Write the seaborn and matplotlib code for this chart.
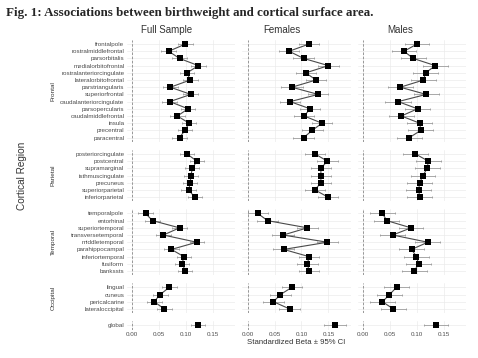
import numpy as np
import pandas as pd
import matplotlib
matplotlib.use('Agg')
import matplotlib.pyplot as plt
import seaborn as sns

# regions per lobe (top to bottom)
frontal = ['frontalpole', 'rostralmiddlefrontal', 'parsorbitalis', 'medialorbitofrontal',
           'rostralanteriorcingulate', 'lateralorbitofrontal', 'parstriangularis',
           'superiorfrontal', 'caudalanteriorcingulate', 'parsopercularis',
           'caudalmiddlefrontal', 'insula', 'precentral', 'paracentral']
parietal = ['posteriorcingulate', 'postcentral', 'supramarginal', 'isthmuscingulate',
            'precuneus', 'superiorparietal', 'inferiorparietal']
temporal = ['temporalpole', 'entorhinal', 'superiortemporal', 'transversetemporal',
            'middletemporal', 'parahippocampal', 'inferiortemporal', 'fusiform', 'bankssts']
occipital = ['lingual', 'cuneus', 'pericalcarine', 'lateraloccipital']
overall = ['global']

lobe_names = ['Frontal', 'Parietal', 'Temporal', 'Occipital', '']
samples = ['Full Sample', 'Females', 'Males']

# standardized beta, same order as the region lists above
beta_full = [0.099, 0.068, 0.088, 0.123, 0.102, 0.108, 0.071, 0.109, 0.070, 0.104, 0.084, 0.106, 0.098, 0.088,
             0.102, 0.120, 0.112, 0.109, 0.108, 0.105, 0.116,
             0.025, 0.038, 0.088, 0.058, 0.120, 0.073, 0.096, 0.093, 0.099,
             0.069, 0.052, 0.041, 0.060,
             0.123]
ci_full = [0.014, 0.014, 0.014, 0.014, 0.013, 0.014, 0.014, 0.014, 0.014, 0.013, 0.014, 0.013, 0.013, 0.014,
           0.013, 0.013, 0.013, 0.013, 0.013, 0.014, 0.013,
           0.014, 0.014, 0.014, 0.014, 0.013, 0.014, 0.013, 0.013, 0.013,
           0.014, 0.014, 0.014, 0.014,
           0.013]

beta_female = [0.114, 0.077, 0.104, 0.150, 0.108, 0.127, 0.082, 0.131, 0.079, 0.116, 0.105, 0.138, 0.120, 0.104,
               0.125, 0.148, 0.136, 0.136, 0.136, 0.125, 0.149,
               0.019, 0.037, 0.111, 0.066, 0.148, 0.067, 0.114, 0.111, 0.114,
               0.082, 0.061, 0.048, 0.078,
               0.162]
ci_female = [0.019, 0.019, 0.019, 0.020, 0.019, 0.019, 0.020, 0.019, 0.019, 0.019, 0.019, 0.019, 0.019, 0.019,
             0.019, 0.019, 0.019, 0.019, 0.019, 0.019, 0.019,
             0.019, 0.020, 0.019, 0.020, 0.019, 0.020, 0.019, 0.019, 0.019,
             0.019, 0.019, 0.020, 0.019,
             0.020]

beta_male = [0.100, 0.076, 0.093, 0.134, 0.116, 0.112, 0.069, 0.117, 0.065, 0.101, 0.071, 0.105, 0.107, 0.086,
             0.097, 0.121, 0.119, 0.111, 0.105, 0.103, 0.105,
             0.036, 0.044, 0.089, 0.055, 0.120, 0.090, 0.099, 0.103, 0.095,
             0.062, 0.049, 0.036, 0.056,
             0.135]
ci_male = [0.023, 0.023, 0.023, 0.023, 0.023, 0.023, 0.023, 0.023, 0.024, 0.023, 0.023, 0.023, 0.023, 0.023,
           0.023, 0.023, 0.023, 0.023, 0.023, 0.023, 0.023,
           0.023, 0.023, 0.023, 0.023, 0.023, 0.023, 0.023, 0.023, 0.023,
           0.023, 0.023, 0.023, 0.023,
           0.022]

xticks = [0.00, 0.05, 0.10, 0.15]

# build long table
groups = [frontal, parietal, temporal, occipital, overall]
rows = []
for s, betas, cis in zip(samples, [beta_full, beta_female, beta_male], [ci_full, ci_female, ci_male]):
    k = 0
    for lobe, regs in zip(lobe_names, groups):
        for i, r in enumerate(regs):
            rows.append({'sample': s, 'lobe': lobe, 'region': r, 'pos': i,
                         'beta': betas[k], 'ci': cis[k]})
            k += 1
df = pd.DataFrame(rows)

sns.set_theme(style='whitegrid')
plt.rcParams['font.family'] = ['Liberation Sans', 'DejaVu Sans']

fig = plt.figure(figsize=(4.78, 3.58), dpi=100)
gs = fig.add_gridspec(5, 3, height_ratios=[len(g) + 0.2 for g in groups],
                      left=0.265, right=0.975, top=0.889, bottom=0.0793,
                      wspace=0.066, hspace=0.149)

for c, s in enumerate(samples):
    for r, (lobe, regs) in enumerate(zip(lobe_names, groups)):
        ax = fig.add_subplot(gs[r, c])
        d = df[(df['sample'] == s) & (df['lobe'] == lobe)]
        ax.axvline(0, color='#8a8a8a', lw=0.6, ls=(0, (3, 2)), zorder=1)
        ax.errorbar(d['beta'], d['pos'], xerr=d['ci'], fmt='none', ecolor='#8c8c8c',
                    elinewidth=0.5, capsize=1.0, capthick=0.5, zorder=2)
        if len(d) > 1:
            sns.lineplot(data=d, x='beta', y='pos', orient='y', color='#4a4a4a',
                         lw=0.8, ax=ax, zorder=3)
        sns.scatterplot(data=d, x='beta', y='pos', marker='s', color='black',
                        s=13, linewidth=0, ax=ax, zorder=4)
        ax.set_xlim(-0.010, 0.191)
        ax.set_ylim(len(regs) - 0.4, -0.6)
        ax.set_xticks(xticks)
        ax.set_yticks(range(len(regs)))
        ax.set_xlabel('')
        ax.set_ylabel('')
        ax.grid(True, color='#ebebeb', lw=0.5)
        for sp in ax.spines.values():
            sp.set_visible(False)
        ax.tick_params(length=0, labelsize=4.5, colors='#4d4d4d', pad=1.6)
        if c == 0:
            ax.set_yticklabels(regs)
            pos = ax.get_position()
            if lobe:
                fig.text(53 / 478, (pos.y0 + pos.y1) / 2, lobe, rotation=90,
                         ha='center', va='center', fontsize=4.6, color='#333333')
        else:
            ax.set_yticklabels([])
        if r == 4:
            ax.set_xticklabels(['0.00', '0.05', '0.10', '0.15'])
        else:
            ax.set_xticklabels([])

# column titles
for s, xc in zip(samples, [166.7, 281.7, 400]):
    fig.text(xc / 478, 1 - 30 / 358, s, ha='center', va='center', fontsize=7, color='#333333')

fig.text(296 / 478, 1 - 343 / 358, 'Standardized Beta ± 95% CI', ha='center', va='center',
         fontsize=5.6, color='#333333')
fig.text(22 / 478, 1 - 176 / 358, 'Cortical Region', rotation=90, ha='center', va='center',
         fontsize=7.2, color='#333333')
fig.text(6 / 478, 1 - 13 / 358, 'Fig. 1: Associations between birthweight and cortical surface area.',
         ha='left', va='center', fontsize=9.4, fontweight='bold', family='Liberation Serif')

fig.savefig('out.png', dpi=100)
